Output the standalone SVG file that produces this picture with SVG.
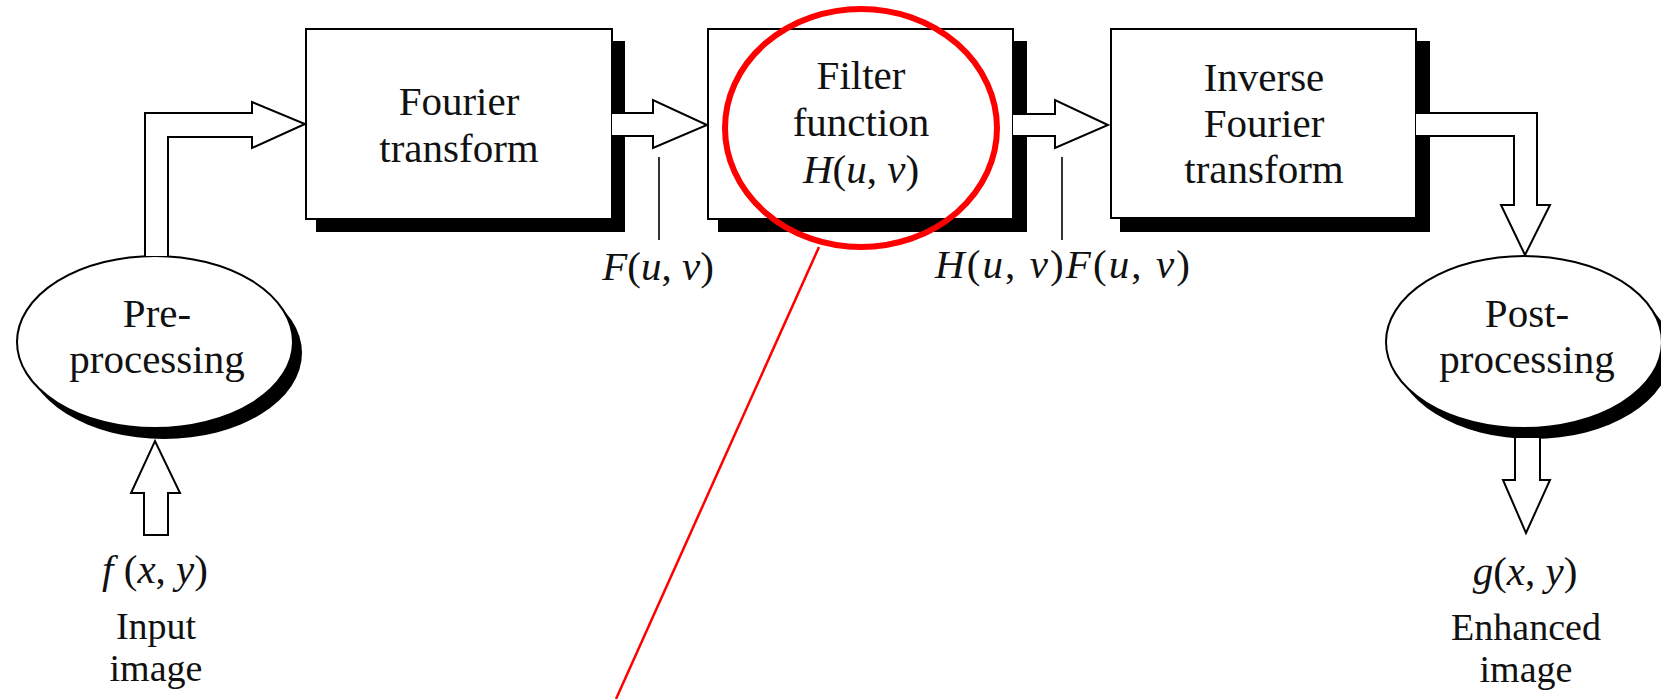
<svg xmlns="http://www.w3.org/2000/svg" width="1661" height="699" viewBox="0 0 1661 699">
<style>
.box{fill:#fff;stroke:#000;stroke-width:2}
.sh{fill:#000}
.t{font-family:"Liberation Serif","Times New Roman",serif;font-size:41px;fill:#111;text-anchor:middle}
.b{font-family:"Liberation Serif","Times New Roman",serif;font-size:38px;fill:#111;text-anchor:middle}
.m{font-family:"Liberation Serif","Times New Roman",serif;font-size:41px;fill:#111}
.i{font-style:italic}
.arr{fill:#fff;stroke:#000;stroke-width:2;stroke-linejoin:miter}
.tick{stroke:#000;stroke-width:1.6;fill:none}
</style>
<rect width="1661" height="699" fill="#fff"/>
<g id="pre">
<ellipse class="sh" cx="164" cy="353" rx="138" ry="86"/>
<ellipse class="box" cx="155" cy="342" rx="138" ry="86"/>
<text class="t" x="157" y="327">Pre-</text>
<text class="t" x="157" y="373">processing</text>
</g>
<g id="ft">
<rect class="sh" x="316" y="41" width="309" height="191"/>
<rect class="box" x="306" y="29" width="306" height="190"/>
<text class="t" x="459" y="115">Fourier</text>
<text class="t" x="459" y="162">transform</text>
</g>
<g id="filter">
<rect class="sh" x="718" y="41" width="309" height="191"/>
<rect class="box" x="708" y="29" width="305" height="190"/>
<text class="t" x="861" y="89">Filter</text>
<text class="t" x="861" y="136">function</text>
<text class="m" x="861" y="183" text-anchor="middle"><tspan class="i">H</tspan>(<tspan class="i">u</tspan>, <tspan class="i">v</tspan>)</text>
</g>
<g id="ift">
<rect class="sh" x="1120" y="41" width="310" height="191"/>
<rect class="box" x="1111" y="29" width="305" height="189"/>
<text class="t" x="1264" y="91">Inverse</text>
<text class="t" x="1264" y="137">Fourier</text>
<text class="t" x="1264" y="183">transform</text>
</g>
<g id="post">
<ellipse class="sh" cx="1533" cy="353" rx="138" ry="86"/>
<ellipse class="box" cx="1524" cy="342" rx="138" ry="86"/>
<text class="t" x="1527" y="327">Post-</text>
<text class="t" x="1527" y="373">processing</text>
</g>
<g id="input">
<text class="m" x="155" y="583" text-anchor="middle"><tspan class="i">f</tspan> (<tspan class="i">x</tspan>, <tspan class="i">y</tspan>)</text>
<text class="b" x="156" y="639">Input</text>
<text class="b" x="156" y="681">image</text>
</g>
<g id="output">
<text class="m" x="1525" y="585" text-anchor="middle"><tspan class="i">g</tspan>(<tspan class="i">x</tspan>, <tspan class="i">y</tspan>)</text>
<text class="b" x="1526" y="640">Enhanced</text>
<text class="b" x="1526" y="682">image</text>
</g>
<g id="connectors">
<path class="arr" d="M145,256 V113 H252 V102 L305,124 L252,148 V137 H168 V256"/>
<path class="arr" d="M612,113 H653 V100 L707,125 L653,148 V136 H612"/>
<path class="arr" d="M1013,114 H1055 V100 L1108,125 L1055,148 V136 H1013"/>
<path class="arr" d="M1416,113 H1537 V205 H1550 L1525,255 L1501,205 H1514 V136 H1416"/>
<path class="arr" d="M144,535 V493 H131 L155,441 L180,493 H168 V535 Z"/>
<path class="arr" d="M1515,438 V480 H1503 L1526,533 L1550,480 H1540 V438"/>
<line class="tick" x1="659" y1="157" x2="659" y2="240"/>
<line class="tick" x1="1062" y1="157" x2="1062" y2="240"/>
<text class="m" x="658" y="280" text-anchor="middle"><tspan class="i">F</tspan>(<tspan class="i">u</tspan>, <tspan class="i">v</tspan>)</text>
<text class="m" x="935" y="278" textLength="255" lengthAdjust="spacing"><tspan class="i">H</tspan>(<tspan class="i">u</tspan>, <tspan class="i">v</tspan>)<tspan class="i">F</tspan>(<tspan class="i">u</tspan>, <tspan class="i">v</tspan>)</text>
</g>
<g id="highlight">
<ellipse cx="861" cy="128" rx="136" ry="119" fill="none" stroke="#f00" stroke-width="6"/>
<line x1="819" y1="247" x2="616" y2="699" stroke="#f00" stroke-width="2.5"/>
</g>
</svg>
